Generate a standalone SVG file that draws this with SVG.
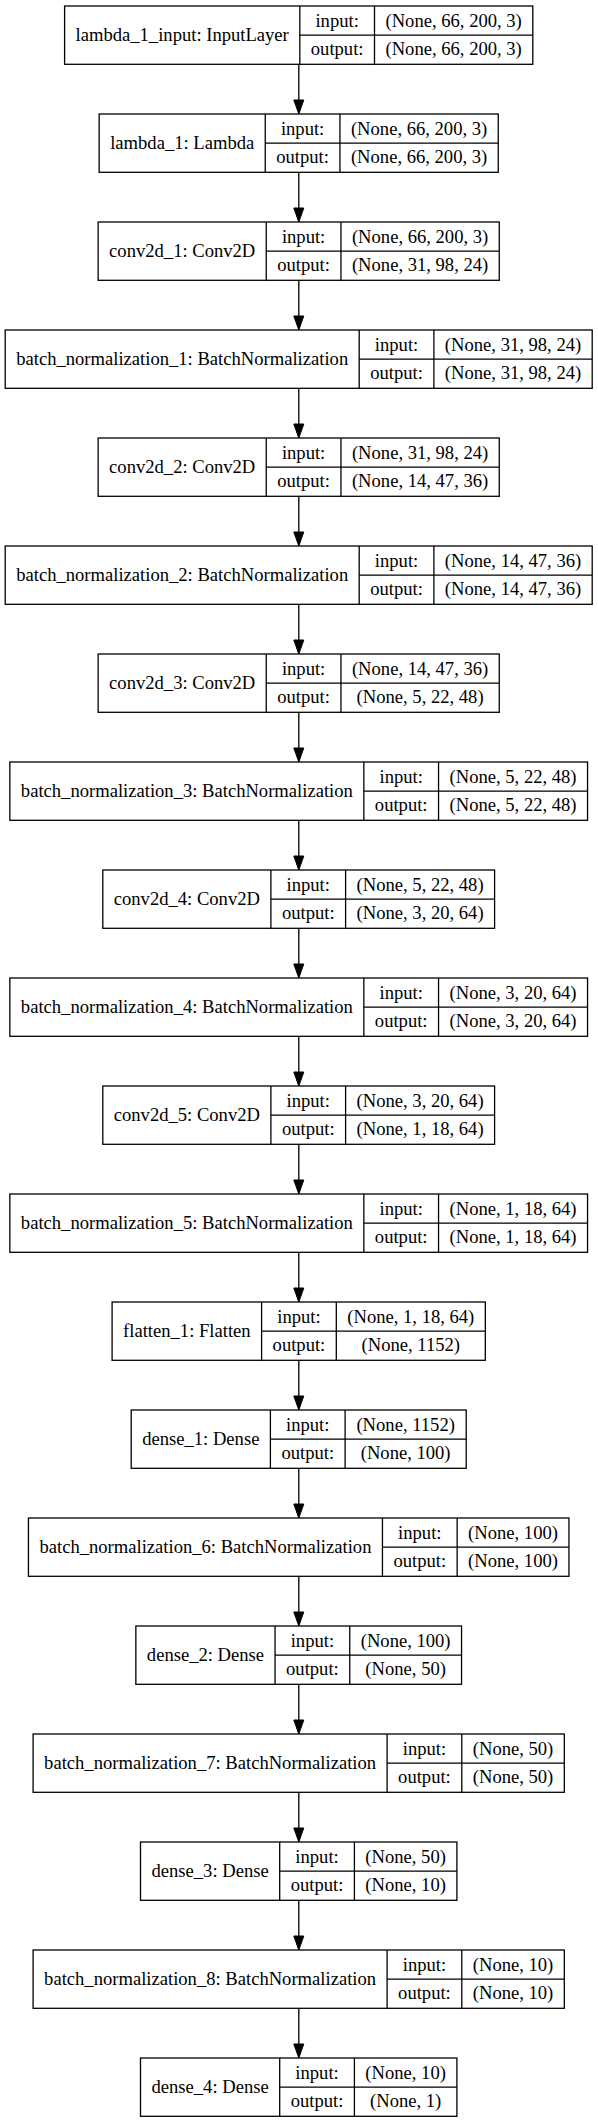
<svg xmlns="http://www.w3.org/2000/svg" width="598" height="2123" viewBox="0 0 598 2123">
<style>
rect.b{fill:#fff;stroke:#000;stroke-width:1.3}
line.s{stroke:#000;stroke-width:1.3}
text{font-family:"Liberation Serif","Times New Roman",serif;font-size:18.6px;fill:#000;text-anchor:middle}
.e line{stroke:#000;stroke-width:1.3}
.e polygon{fill:#000;stroke:#000;stroke-width:1}
</style>
<rect width="598" height="2123" fill="#fff"/>
<g class="e" id="edges">
<line x1="298.8" y1="64.3" x2="298.8" y2="100"/><polygon points="293.8,100 303.8,100 298.8,114"/>
<line x1="298.8" y1="172.3" x2="298.8" y2="208"/><polygon points="293.8,208 303.8,208 298.8,222"/>
<line x1="298.8" y1="280.3" x2="298.8" y2="316"/><polygon points="293.8,316 303.8,316 298.8,330"/>
<line x1="298.8" y1="388.3" x2="298.8" y2="424"/><polygon points="293.8,424 303.8,424 298.8,438"/>
<line x1="298.8" y1="496.3" x2="298.8" y2="532"/><polygon points="293.8,532 303.8,532 298.8,546"/>
<line x1="298.8" y1="604.3" x2="298.8" y2="640"/><polygon points="293.8,640 303.8,640 298.8,654"/>
<line x1="298.8" y1="712.3" x2="298.8" y2="748"/><polygon points="293.8,748 303.8,748 298.8,762"/>
<line x1="298.8" y1="820.3" x2="298.8" y2="856"/><polygon points="293.8,856 303.8,856 298.8,870"/>
<line x1="298.8" y1="928.3" x2="298.8" y2="964"/><polygon points="293.8,964 303.8,964 298.8,978"/>
<line x1="298.8" y1="1036.3" x2="298.8" y2="1072"/><polygon points="293.8,1072 303.8,1072 298.8,1086"/>
<line x1="298.8" y1="1144.3" x2="298.8" y2="1180"/><polygon points="293.8,1180 303.8,1180 298.8,1194"/>
<line x1="298.8" y1="1252.3" x2="298.8" y2="1288"/><polygon points="293.8,1288 303.8,1288 298.8,1302"/>
<line x1="298.8" y1="1360.3" x2="298.8" y2="1396"/><polygon points="293.8,1396 303.8,1396 298.8,1410"/>
<line x1="298.8" y1="1468.3" x2="298.8" y2="1504"/><polygon points="293.8,1504 303.8,1504 298.8,1518"/>
<line x1="298.8" y1="1576.3" x2="298.8" y2="1612"/><polygon points="293.8,1612 303.8,1612 298.8,1626"/>
<line x1="298.8" y1="1684.3" x2="298.8" y2="1720"/><polygon points="293.8,1720 303.8,1720 298.8,1734"/>
<line x1="298.8" y1="1792.3" x2="298.8" y2="1828"/><polygon points="293.8,1828 303.8,1828 298.8,1842"/>
<line x1="298.8" y1="1900.3" x2="298.8" y2="1936"/><polygon points="293.8,1936 303.8,1936 298.8,1950"/>
<line x1="298.8" y1="2008.3" x2="298.8" y2="2044"/><polygon points="293.8,2044 303.8,2044 298.8,2058"/>
</g>

<g id="n0" transform="translate(64.6,6)">
<rect class="b" width="468.2" height="58.3"/><line class="s" x1="235.2" y1="0" x2="235.2" y2="58.3"/><line class="s" x1="309.9" y1="0" x2="309.9" y2="58.3"/><line class="s" x1="235.2" y1="29.1" x2="468.2" y2="29.1"/>
<text x="117.6" y="34.9">lambda_1_input: InputLayer</text><text x="272.55" y="20.7">input:</text><text x="272.55" y="49.4">output:</text>
<text x="389.05" y="20.7">(None, 66, 200, 3)</text><text x="389.05" y="49.4">(None, 66, 200, 3)</text>
</g>

<g id="n1" transform="translate(99.15,114)">
<rect class="b" width="399.1" height="58.3"/><line class="s" x1="166.1" y1="0" x2="166.1" y2="58.3"/><line class="s" x1="240.8" y1="0" x2="240.8" y2="58.3"/><line class="s" x1="166.1" y1="29.1" x2="399.1" y2="29.1"/>
<text x="83.05" y="34.9">lambda_1: Lambda</text><text x="203.45" y="20.7">input:</text><text x="203.45" y="49.4">output:</text>
<text x="319.95" y="20.7">(None, 66, 200, 3)</text><text x="319.95" y="49.4">(None, 66, 200, 3)</text>
</g>

<g id="n2" transform="translate(98.15,222)">
<rect class="b" width="401.1" height="58.3"/><line class="s" x1="168.1" y1="0" x2="168.1" y2="58.3"/><line class="s" x1="242.8" y1="0" x2="242.8" y2="58.3"/><line class="s" x1="168.1" y1="29.1" x2="401.1" y2="29.1"/>
<text x="84.05" y="34.9">conv2d_1: Conv2D</text><text x="205.45" y="20.7">input:</text><text x="205.45" y="49.4">output:</text>
<text x="321.95" y="20.7">(None, 66, 200, 3)</text><text x="321.95" y="49.4">(None, 31, 98, 24)</text>
</g>

<g id="n3" transform="translate(5.2,330)">
<rect class="b" width="587" height="58.3"/><line class="s" x1="354" y1="0" x2="354" y2="58.3"/><line class="s" x1="428.7" y1="0" x2="428.7" y2="58.3"/><line class="s" x1="354" y1="29.1" x2="587" y2="29.1"/>
<text x="177" y="34.9">batch_normalization_1: BatchNormalization</text><text x="391.35" y="20.7">input:</text><text x="391.35" y="49.4">output:</text>
<text x="507.85" y="20.7">(None, 31, 98, 24)</text><text x="507.85" y="49.4">(None, 31, 98, 24)</text>
</g>

<g id="n4" transform="translate(98.15,438)">
<rect class="b" width="401.1" height="58.3"/><line class="s" x1="168.1" y1="0" x2="168.1" y2="58.3"/><line class="s" x1="242.8" y1="0" x2="242.8" y2="58.3"/><line class="s" x1="168.1" y1="29.1" x2="401.1" y2="29.1"/>
<text x="84.05" y="34.9">conv2d_2: Conv2D</text><text x="205.45" y="20.7">input:</text><text x="205.45" y="49.4">output:</text>
<text x="321.95" y="20.7">(None, 31, 98, 24)</text><text x="321.95" y="49.4">(None, 14, 47, 36)</text>
</g>

<g id="n5" transform="translate(5.2,546)">
<rect class="b" width="587" height="58.3"/><line class="s" x1="354" y1="0" x2="354" y2="58.3"/><line class="s" x1="428.7" y1="0" x2="428.7" y2="58.3"/><line class="s" x1="354" y1="29.1" x2="587" y2="29.1"/>
<text x="177" y="34.9">batch_normalization_2: BatchNormalization</text><text x="391.35" y="20.7">input:</text><text x="391.35" y="49.4">output:</text>
<text x="507.85" y="20.7">(None, 14, 47, 36)</text><text x="507.85" y="49.4">(None, 14, 47, 36)</text>
</g>

<g id="n6" transform="translate(98.15,654)">
<rect class="b" width="401.1" height="58.3"/><line class="s" x1="168.1" y1="0" x2="168.1" y2="58.3"/><line class="s" x1="242.8" y1="0" x2="242.8" y2="58.3"/><line class="s" x1="168.1" y1="29.1" x2="401.1" y2="29.1"/>
<text x="84.05" y="34.9">conv2d_3: Conv2D</text><text x="205.45" y="20.7">input:</text><text x="205.45" y="49.4">output:</text>
<text x="321.95" y="20.7">(None, 14, 47, 36)</text><text x="321.95" y="49.4">(None, 5, 22, 48)</text>
</g>

<g id="n7" transform="translate(9.85,762)">
<rect class="b" width="577.7" height="58.3"/><line class="s" x1="354" y1="0" x2="354" y2="58.3"/><line class="s" x1="428.7" y1="0" x2="428.7" y2="58.3"/><line class="s" x1="354" y1="29.1" x2="577.7" y2="29.1"/>
<text x="177" y="34.9">batch_normalization_3: BatchNormalization</text><text x="391.35" y="20.7">input:</text><text x="391.35" y="49.4">output:</text>
<text x="503.2" y="20.7">(None, 5, 22, 48)</text><text x="503.2" y="49.4">(None, 5, 22, 48)</text>
</g>

<g id="n8" transform="translate(102.8,870)">
<rect class="b" width="391.8" height="58.3"/><line class="s" x1="168.1" y1="0" x2="168.1" y2="58.3"/><line class="s" x1="242.8" y1="0" x2="242.8" y2="58.3"/><line class="s" x1="168.1" y1="29.1" x2="391.8" y2="29.1"/>
<text x="84.05" y="34.9">conv2d_4: Conv2D</text><text x="205.45" y="20.7">input:</text><text x="205.45" y="49.4">output:</text>
<text x="317.3" y="20.7">(None, 5, 22, 48)</text><text x="317.3" y="49.4">(None, 3, 20, 64)</text>
</g>

<g id="n9" transform="translate(9.85,978)">
<rect class="b" width="577.7" height="58.3"/><line class="s" x1="354" y1="0" x2="354" y2="58.3"/><line class="s" x1="428.7" y1="0" x2="428.7" y2="58.3"/><line class="s" x1="354" y1="29.1" x2="577.7" y2="29.1"/>
<text x="177" y="34.9">batch_normalization_4: BatchNormalization</text><text x="391.35" y="20.7">input:</text><text x="391.35" y="49.4">output:</text>
<text x="503.2" y="20.7">(None, 3, 20, 64)</text><text x="503.2" y="49.4">(None, 3, 20, 64)</text>
</g>

<g id="n10" transform="translate(102.8,1086)">
<rect class="b" width="391.8" height="58.3"/><line class="s" x1="168.1" y1="0" x2="168.1" y2="58.3"/><line class="s" x1="242.8" y1="0" x2="242.8" y2="58.3"/><line class="s" x1="168.1" y1="29.1" x2="391.8" y2="29.1"/>
<text x="84.05" y="34.9">conv2d_5: Conv2D</text><text x="205.45" y="20.7">input:</text><text x="205.45" y="49.4">output:</text>
<text x="317.3" y="20.7">(None, 3, 20, 64)</text><text x="317.3" y="49.4">(None, 1, 18, 64)</text>
</g>

<g id="n11" transform="translate(9.85,1194)">
<rect class="b" width="577.7" height="58.3"/><line class="s" x1="354" y1="0" x2="354" y2="58.3"/><line class="s" x1="428.7" y1="0" x2="428.7" y2="58.3"/><line class="s" x1="354" y1="29.1" x2="577.7" y2="29.1"/>
<text x="177" y="34.9">batch_normalization_5: BatchNormalization</text><text x="391.35" y="20.7">input:</text><text x="391.35" y="49.4">output:</text>
<text x="503.2" y="20.7">(None, 1, 18, 64)</text><text x="503.2" y="49.4">(None, 1, 18, 64)</text>
</g>

<g id="n12" transform="translate(112.1,1302)">
<rect class="b" width="373.2" height="58.3"/><line class="s" x1="149.5" y1="0" x2="149.5" y2="58.3"/><line class="s" x1="224.2" y1="0" x2="224.2" y2="58.3"/><line class="s" x1="149.5" y1="29.1" x2="373.2" y2="29.1"/>
<text x="74.75" y="34.9">flatten_1: Flatten</text><text x="186.85" y="20.7">input:</text><text x="186.85" y="49.4">output:</text>
<text x="298.7" y="20.7">(None, 1, 18, 64)</text><text x="298.7" y="49.4">(None, 1152)</text>
</g>

<g id="n13" transform="translate(131.2,1410)">
<rect class="b" width="335" height="58.3"/><line class="s" x1="139.2" y1="0" x2="139.2" y2="58.3"/><line class="s" x1="213.9" y1="0" x2="213.9" y2="58.3"/><line class="s" x1="139.2" y1="29.1" x2="335" y2="29.1"/>
<text x="69.6" y="34.9">dense_1: Dense</text><text x="176.55" y="20.7">input:</text><text x="176.55" y="49.4">output:</text>
<text x="274.45" y="20.7">(None, 1152)</text><text x="274.45" y="49.4">(None, 100)</text>
</g>

<g id="n14" transform="translate(28.45,1518)">
<rect class="b" width="540.5" height="58.3"/><line class="s" x1="354" y1="0" x2="354" y2="58.3"/><line class="s" x1="428.7" y1="0" x2="428.7" y2="58.3"/><line class="s" x1="354" y1="29.1" x2="540.5" y2="29.1"/>
<text x="177" y="34.9">batch_normalization_6: BatchNormalization</text><text x="391.35" y="20.7">input:</text><text x="391.35" y="49.4">output:</text>
<text x="484.6" y="20.7">(None, 100)</text><text x="484.6" y="49.4">(None, 100)</text>
</g>

<g id="n15" transform="translate(135.85,1626)">
<rect class="b" width="325.7" height="58.3"/><line class="s" x1="139.2" y1="0" x2="139.2" y2="58.3"/><line class="s" x1="213.9" y1="0" x2="213.9" y2="58.3"/><line class="s" x1="139.2" y1="29.1" x2="325.7" y2="29.1"/>
<text x="69.6" y="34.9">dense_2: Dense</text><text x="176.55" y="20.7">input:</text><text x="176.55" y="49.4">output:</text>
<text x="269.8" y="20.7">(None, 100)</text><text x="269.8" y="49.4">(None, 50)</text>
</g>

<g id="n16" transform="translate(33.1,1734)">
<rect class="b" width="531.2" height="58.3"/><line class="s" x1="354" y1="0" x2="354" y2="58.3"/><line class="s" x1="428.7" y1="0" x2="428.7" y2="58.3"/><line class="s" x1="354" y1="29.1" x2="531.2" y2="29.1"/>
<text x="177" y="34.9">batch_normalization_7: BatchNormalization</text><text x="391.35" y="20.7">input:</text><text x="391.35" y="49.4">output:</text>
<text x="479.95" y="20.7">(None, 50)</text><text x="479.95" y="49.4">(None, 50)</text>
</g>

<g id="n17" transform="translate(140.5,1842)">
<rect class="b" width="316.4" height="58.3"/><line class="s" x1="139.2" y1="0" x2="139.2" y2="58.3"/><line class="s" x1="213.9" y1="0" x2="213.9" y2="58.3"/><line class="s" x1="139.2" y1="29.1" x2="316.4" y2="29.1"/>
<text x="69.6" y="34.9">dense_3: Dense</text><text x="176.55" y="20.7">input:</text><text x="176.55" y="49.4">output:</text>
<text x="265.15" y="20.7">(None, 50)</text><text x="265.15" y="49.4">(None, 10)</text>
</g>

<g id="n18" transform="translate(33.1,1950)">
<rect class="b" width="531.2" height="58.3"/><line class="s" x1="354" y1="0" x2="354" y2="58.3"/><line class="s" x1="428.7" y1="0" x2="428.7" y2="58.3"/><line class="s" x1="354" y1="29.1" x2="531.2" y2="29.1"/>
<text x="177" y="34.9">batch_normalization_8: BatchNormalization</text><text x="391.35" y="20.7">input:</text><text x="391.35" y="49.4">output:</text>
<text x="479.95" y="20.7">(None, 10)</text><text x="479.95" y="49.4">(None, 10)</text>
</g>

<g id="n19" transform="translate(140.5,2058)">
<rect class="b" width="316.4" height="58.3"/><line class="s" x1="139.2" y1="0" x2="139.2" y2="58.3"/><line class="s" x1="213.9" y1="0" x2="213.9" y2="58.3"/><line class="s" x1="139.2" y1="29.1" x2="316.4" y2="29.1"/>
<text x="69.6" y="34.9">dense_4: Dense</text><text x="176.55" y="20.7">input:</text><text x="176.55" y="49.4">output:</text>
<text x="265.15" y="20.7">(None, 10)</text><text x="265.15" y="49.4">(None, 1)</text>
</g>
</svg>
